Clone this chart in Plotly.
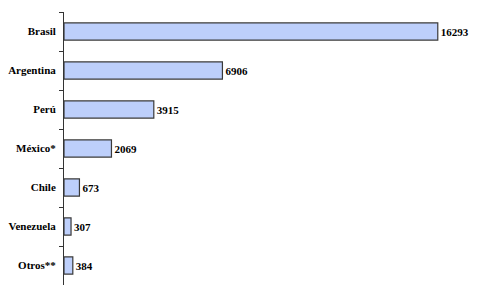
import plotly.graph_objects as go

countries = ["Brasil", "Argentina", "Perú", "México*", "Chile", "Venezuela", "Otros**"]
values = [16293, 6906, 3915, 2069, 673, 307, 384]
labels = [str(v) for v in values]

SERIF = "'Liberation Serif', 'Times New Roman', 'DejaVu Serif', serif"

fig = go.Figure(go.Bar(
    x=values, y=countries, orientation="h",
    marker=dict(color="#BDCFFB", line=dict(color="#3A3A3A", width=1.2)),
    text=labels, texttemplate="<b>%{text}</b>", textposition="outside",
    textfont=dict(family=SERIF, size=11, color="black"),
    cliponaxis=False, width=0.44,
))

fig.update_layout(
    width=478, height=293,
    margin=dict(l=64, r=24, t=12, b=8),
    plot_bgcolor="white", paper_bgcolor="white",
    showlegend=False,
    font=dict(family=SERIF, size=11, color="black"),
)
fig.update_xaxes(range=[0, 17000], visible=False)
fig.update_yaxes(
    categoryorder="array", categoryarray=countries, autorange="reversed",
    showline=True, linecolor="#333333", linewidth=1,
    ticks="outside", tickson="boundaries", ticklen=4, tickcolor="#333333",
    tickfont=dict(family=SERIF, size=11, color="black"),
    tickprefix="<b>", ticksuffix="</b>",
    ticklabelstandoff=5,
    showgrid=False,
)
fig.write_html("out.html")
